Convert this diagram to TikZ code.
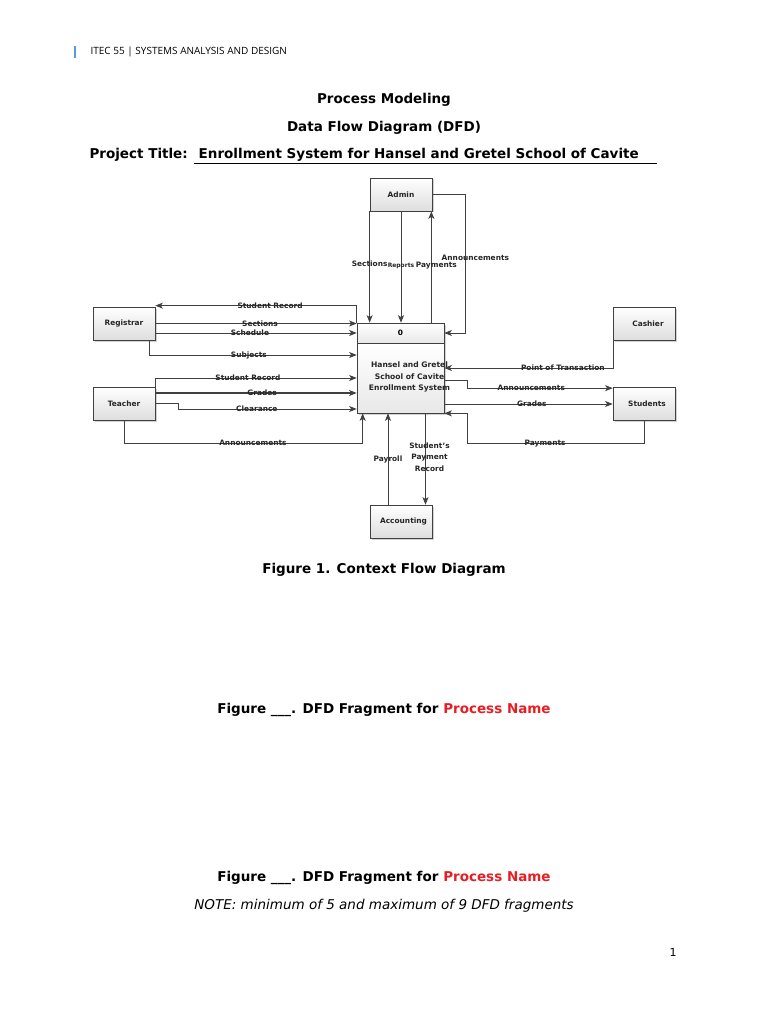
\documentclass[tikz,border=0pt]{standalone}
\usepackage{fontspec}
\setmainfont{DejaVu Sans}
\newfontfamily\hdrfont{Open Sans}
\usepackage{tikz}
\usetikzlibrary{arrows.meta,shadows,positioning}
\definecolor{linegray}{RGB}{64,64,64}
\definecolor{barblue}{RGB}{91,155,213}
\definecolor{procred}{RGB}{232,30,37}
\tikzset{
    %Define standard arrow tip
    >={Stealth[length=7.5pt,width=6pt,inset=2pt]},
    %Define style for boxes
    entity/.style={
           rectangle,
           draw=linegray, line width=0.7pt,
           top color=white, bottom color=black!13,
           drop shadow={shadow xshift=1.5pt, shadow yshift=-1.5pt, opacity=0.35},
           minimum width=62pt,
           minimum height=33pt,
           font=\bfseries\fontsize{7.4}{9}\selectfont,
           text=black!85,
           text centered},
    procbox/.style={
           rectangle,
           draw=linegray, line width=0.7pt,
           top color=white, bottom color=black!9,
           drop shadow={shadow xshift=1.5pt, shadow yshift=-1.5pt, opacity=0.35},
           minimum width=87pt,
           font=\bfseries\fontsize{7.4}{9}\selectfont,
           text centered},
    proclbl/.style={
           font=\bfseries\fontsize{7.6}{11.5}\selectfont,
           text=black!85,
           align=center,
           inner sep=0pt},
    % Define arrow style
    flow/.style={
           ->,
           draw=linegray,
           line width=0.8pt},
    bigflow/.style={flow, line width=1.5pt},
    lbl/.style={
           font=\bfseries\fontsize{7.4}{11.5}\selectfont,
           text=black!85,
           align=center,
           inner sep=1pt},
    ttl/.style={font=\bfseries\fontsize{13.5}{16}\selectfont}
}
\begin{document}
\begin{tikzpicture}[x=1pt,y=-1pt]
\useasboundingbox (0,0) rectangle (768,1024);
\fill[white] (0,0) rectangle (768,1024);

% page header and titles
\draw[barblue, line width=1.5pt] (75,46) -- (75,58);
\node[anchor=west, font=\hdrfont\fontsize{10}{12}\selectfont] (hdr) at (87,52) {ITEC 55 | SYSTEMS ANALYSIS AND DESIGN};
\node[ttl] (title) at (384,100) {Process Modeling};
\node[ttl] (subtitle) at (384,128) {Data Flow Diagram (DFD)};
\node[ttl, anchor=west] (project) at (86,156) {Project Title: \underline{\ Enrollment System for Hansel and Gretel School of Cavite\hspace{18pt}}};

% entities and process
\node[entity] (admin) at (401,194.5) {Admin};
\node[entity] (registrar) at (124,323.5) {Registrar};
\node[entity] (teacher) at (124,403.5) {Teacher};
\node[entity] (cashier) at (644,323.5) {\hspace{8pt}Cashier};
\node[entity] (students) at (644,404) {\hspace{6pt}Students};
\node[entity] (accounting) at (401,521.5) {\hspace{5pt}Accounting};
\node[procbox, minimum height=20pt] (procid) at (400.5,333) {0};
\node[procbox, minimum height=70pt] (proc) at (400.5,378) {};
\node[proclbl] (proctext) at ([xshift=9pt,yshift=1pt]proc.center) {Hansel and Gretel\\School of Cavite\\Enrollment System};

% admin flows
\draw[flow] (admin.south west) -- (admin.south west |- procid.north)
    node[lbl, pos=0.47] {Sections};
\draw[flow] (admin.south) -- (admin.south |- procid.north)
    node[lbl, pos=0.49, font=\bfseries\fontsize{6}{7}\selectfont] {Reports};
\draw[bigflow] ([xshift=-1pt]procid.north -| admin.south east) -- ([xshift=-1pt]admin.south east)
    node[lbl, pos=0.51, xshift=5pt] {Payments};
\draw[flow] (admin.east) -- ++(33,0) |- (procid.east)
    node[lbl, pos=0.23, xshift=10pt] {Announcements};

% registrar flows
\draw[flow] (procid.north west) |- ([yshift=1pt]registrar.north east)
    node[lbl, pos=0.715] {Student Record};
\draw[flow] (registrar.east) -- (registrar.east -| procid.west)
    node[lbl, pos=0.52] {Sections};
\draw[flow] (registrar.east |- procid.west) -- (procid.west)
    node[lbl, pos=0.47] {Schedule};
\draw[flow] ([xshift=-6pt]registrar.south east) |- ([yshift=23pt]proc.west)
    node[lbl, pos=0.74] {Subjects};

% teacher flows
\draw[flow] (teacher.north east) |- (proc.west)
    node[lbl, pos=0.73] {Student Record};
\draw[bigflow] ([yshift=10.5pt]teacher.east) -- ([yshift=10.5pt]teacher.east -| proc.west)
    node[lbl, pos=0.53] {Grades};
\draw[flow] (teacher.east) -- ++(23,0) |- ([yshift=-31pt]proc.west)
    node[lbl, pos=0.72] {Clearance};
\draw[flow] (teacher.south) -- ++(0,23) -| ([xshift=6pt]proc.south west)
    node[lbl, pos=0.27] {Announcements};

% cashier and students flows
\draw[flow] ([xshift=1pt]cashier.south west) |- ([yshift=10pt]proc.east)
    node[lbl, pos=0.65] {Point of Transaction};
\draw[flow] ([yshift=-2pt]proc.east) -- ++(23,0) |- ([yshift=-1pt]students.north west)
    node[lbl, pos=0.72] {Announcements};
\draw[flow] (proc.east |- students.west) -- (students.west)
    node[lbl, pos=0.52] {Grades};
\draw[flow] (students.south) -- ++(0,23) -| ([xshift=23pt]proc.south east)
    node[lbl, pos=0.28] {Payments} -- (proc.south east);

% accounting flows
\draw[flow] ([xshift=-13pt]accounting.north) -- ([xshift=-13pt]accounting.north |- proc.south)
    node[lbl, pos=0.5] {Payroll};
\draw[flow] ([xshift=25pt]proc.south) -- ([xshift=25pt]proc.south |- accounting.north)
    node[lbl, pos=0.48, xshift=4pt] {Student's\\Payment\\Record};

% captions
\node[ttl] (cap1) at (384,570) {Figure 1. Context Flow Diagram};
\node[ttl] (cap2) at (384,710) {Figure \_\_\_. DFD Fragment for \textcolor{procred}{Process Name}};
\node[ttl] (cap3) at (384,878) {Figure \_\_\_. DFD Fragment for \textcolor{procred}{Process Name}};
\node[font=\itshape\fontsize{13.5}{16}\selectfont] (note) at (384,906) {NOTE: minimum of 5 and maximum of 9 DFD fragments};
\node[font=\fontsize{11}{13}\selectfont] (pagenum) at (673,952) {1};
\end{tikzpicture}
\end{document}
